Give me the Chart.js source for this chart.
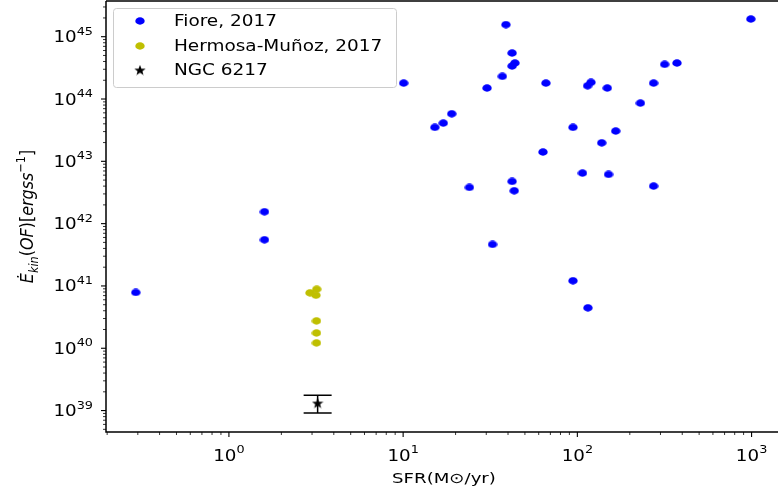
<!DOCTYPE html>
<html><head><meta charset="utf-8">
<script src="https://cdn.jsdelivr.net/npm/chart.js@4.4.1/dist/chart.umd.min.js"></script>
<style>html,body{margin:0;padding:0;background:#fff;overflow:hidden}#wrap{width:778px;height:495px;position:relative}</style>
</head><body><div id="wrap"><canvas id="c" width="778" height="495"></canvas></div>
<script>
// ---- data ----
const fioreSFR  = [990, 38.9, 42.2, 43.8, 42.2, 37.1, 10.07, 30.3, 66, 114.5, 119.7, 148.5, 274, 317, 373, 230, 19.0, 17.0, 15.2, 94.4, 166, 138, 63.5, 107, 151, 24.0, 42.2, 43.4, 274, 32.6, 94.4, 115, 1.60, 1.60, 0.292];
const fioreEkin = [1.92e45, 1.56e45, 5.47e44, 3.78e44, 3.38e44, 2.31e44, 1.80e44, 1.50e44, 1.80e44, 1.63e44, 1.85e44, 1.50e44, 1.80e44, 3.6e44, 3.78e44, 8.6e43, 5.8e43, 4.11e43, 3.51e43, 3.51e43, 3.06e43, 1.98e43, 1.41e43, 6.47e42, 6.17e42, 3.81e42, 4.76e42, 3.37e42, 4.0e42, 4.64e41, 1.21e41, 4.45e40, 1.55e42, 5.5e41, 7.85e40];
const hermosaSFR  = [2.92, 3.19, 3.16, 3.18, 3.18, 3.18];
const hermosaEkin = [7.75e40, 8.87e40, 7.1e40, 2.75e40, 1.76e40, 1.22e40];
const ngcSFR     = [3.23];
const ngcEkin    = [1.32e39];
const ngcEkinLow = [9.15e38];
const ngcEkinHigh= [1.76e39];
const seriesNames = ['Fiore, 2017', 'Hermosa-Muñoz, 2017', 'NGC 6217'];
const xTickPowers = [0, 1, 2, 3];
const yTickPowers = [39, 40, 41, 42, 43, 44, 45];
const xTitle = 'SFR(M\u2299/yr)';

// ---- styles ----
const BLUE = '#0000ff', YEL = '#bfbf00';
const FONT = '"DejaVu Sans", sans-serif';
const SX = 1.22; // horizontal text stretch seen in the reference
function ellipse(color, w, h) {
  const c = document.createElement('canvas'); c.width = w; c.height = h;
  const g = c.getContext('2d'); g.fillStyle = color;
  g.beginPath(); g.ellipse(w/2, h/2, w/2 - 0.3, h/2 - 0.3, 0, 0, Math.PI*2); g.fill();
  return c;
}
function star(color, w, h) {
  const c = document.createElement('canvas'); c.width = w; c.height = h;
  const g = c.getContext('2d'); g.fillStyle = color; g.beginPath();
  for (let i = 0; i < 10; i++) {
    const r = i % 2 ? 0.42 : 1; const a = -Math.PI/2 + i*Math.PI/5;
    const px = w/2 + Math.cos(a)*r*w/2, py = h/2 + 0.5 + Math.sin(a)*r*h/2;
    i ? g.lineTo(px, py) : g.moveTo(px, py);
  }
  g.closePath(); g.fill(); return c;
}
const blueDot = ellipse(BLUE, 10, 8), yelDot = ellipse(YEL, 10, 8), blackStar = star('#000', 12, 11);
const toPts = (xs, ys) => xs.map((x, i) => ({x, y: ys[i]}));
const noPad = s => { s.paddingTop = 0; s.paddingBottom = 0; s.paddingLeft = 0; s.paddingRight = 0; };

// draws "10^p" mathtext-like; anchor: 'right' (y axis) or 'center' (x axis); y = baseline of "10"
function powText(ctx, p, x, y, anchor) {
  const big = '15px ' + FONT, small = '10.5px ' + FONT;
  ctx.font = big; const w1 = ctx.measureText('10').width * SX;
  ctx.font = small; const w2 = ctx.measureText(String(p)).width * SX;
  const tot = w1 + w2; const x0 = anchor === 'right' ? x - tot : x - tot/2;
  ctx.save(); ctx.translate(x0, y); ctx.scale(SX, 1); ctx.textAlign = 'left'; ctx.textBaseline = 'alphabetic';
  ctx.font = big; ctx.fillText('10', 0, 0);
  ctx.font = small; ctx.fillText(String(p), w1 / SX, -7.5);
  ctx.restore();
}

const framePlugin = {
  id: 'frame',
  beforeDatasetsDraw(chart) {
    const ctx = chart.ctx, xs = chart.scales.x, ys = chart.scales.y;
    ctx.save(); ctx.strokeStyle = '#000'; ctx.lineWidth = 1.5;
    ngcSFR.forEach((v, i) => {
      const px = xs.getPixelForValue(v), y1 = ys.getPixelForValue(ngcEkinHigh[i]), y2 = ys.getPixelForValue(ngcEkinLow[i]);
      ctx.beginPath(); ctx.moveTo(px, y1); ctx.lineTo(px, y2);
      ctx.moveTo(px - 14, y1); ctx.lineTo(px + 14, y1);
      ctx.moveTo(px - 14, y2); ctx.lineTo(px + 14, y2); ctx.stroke();
    });
    ctx.restore();
  },
  afterDraw(chart) {
    const ctx = chart.ctx, a = chart.chartArea, xs = chart.scales.x, ys = chart.scales.y;
    ctx.save();
    // ticks
    ctx.strokeStyle = '#000';
    const drawTicks = (sc, horiz) => {
      const e0 = Math.floor(Math.log10(sc.min)), e1 = Math.ceil(Math.log10(sc.max));
      for (let e = e0; e <= e1; e++) for (let k = 1; k <= 9; k++) {
        const v = k * Math.pow(10, e); if (v < sc.min || v > sc.max) continue;
        const p = sc.getPixelForValue(v), len = k === 1 ? 5 : 3;
        ctx.lineWidth = k === 1 ? 1.1 : 0.8; ctx.beginPath();
        if (horiz) { ctx.moveTo(p, a.bottom); ctx.lineTo(p, a.bottom + len); }
        else { ctx.moveTo(a.left, p); ctx.lineTo(a.left - len, p); }
        ctx.stroke();
      }
    };
    drawTicks(xs, true); drawTicks(ys, false);
    // spines
    ctx.lineWidth = 1.5; ctx.beginPath();
    ctx.moveTo(a.left, a.top); ctx.lineTo(a.left, a.bottom); ctx.lineTo(a.right, a.bottom);
    ctx.moveTo(a.left, a.top); ctx.lineTo(a.right, a.top); ctx.stroke();
    // tick labels
    ctx.fillStyle = '#000';
    xTickPowers.forEach(p => powText(ctx, p, xs.getPixelForValue(Math.pow(10, p)), 460.5, 'center'));
    yTickPowers.forEach(p => powText(ctx, p, 93, ys.getPixelForValue(Math.pow(10, p)) + 5.5, 'right'));
    // x title
    ctx.font = '14.5px ' + FONT; ctx.textAlign = 'center'; ctx.textBaseline = 'alphabetic';
    ctx.save(); ctx.translate(444, 483); ctx.scale(1.25, 1); ctx.fillText(xTitle, 0, 0); ctx.restore();
    // y title (mathtext-like)
    const segs = [
      {t:'Ė', s:1, it:true, dy:0}, {t:'kin', s:0.7, it:true, dy:4}, {t:'(', s:1, it:false, dy:0},
      {t:'OF', s:1, it:true, dy:0}, {t:')[', s:1, it:false, dy:0}, {t:'ergss', s:1, it:true, dy:0},
      {t:'−1', s:0.7, it:false, dy:-7}, {t:']', s:1, it:false, dy:0}];
    const fs = 16;
    let total = 0;
    segs.forEach(sg => { ctx.font = (sg.it ? 'italic ' : '') + (fs*sg.s) + 'px ' + FONT; sg.w = ctx.measureText(sg.t).width; total += sg.w; });
    ctx.save(); ctx.translate(33, (a.top + a.bottom)/2); ctx.rotate(-Math.PI/2); ctx.scale(1, 1.15);
    ctx.textAlign = 'left'; let cx = -total/2;
    segs.forEach(sg => { ctx.font = (sg.it ? 'italic ' : '') + (fs*sg.s) + 'px ' + FONT; ctx.fillText(sg.t, cx, sg.dy); cx += sg.w; });
    ctx.restore();
    // legend
    const bx = 113, by = 8, bw = 283, bh = 79;
    ctx.fillStyle = 'rgba(255,255,255,0.8)'; ctx.strokeStyle = '#cccccc'; ctx.lineWidth = 1;
    ctx.beginPath(); ctx.roundRect(bx + 0.5, by + 0.5, bw, bh, 3); ctx.fill(); ctx.stroke();
    const marks = [blueDot, yelDot, blackStar], rows = [21, 46, 70];
    ctx.font = '15px ' + FONT; ctx.fillStyle = '#000'; ctx.textBaseline = 'middle'; ctx.textAlign = 'left';
    seriesNames.forEach((n, i) => {
      const m = marks[i]; ctx.drawImage(m, 140 - m.width/2, rows[i] - m.height/2);
      ctx.save(); ctx.translate(174, rows[i] + 1); ctx.scale(1.23, 1); ctx.fillText(n, 0, 0); ctx.restore();
    });
    ctx.restore();
  }
};

new Chart(document.getElementById('c'), {
  type: 'scatter',
  data: { datasets: [
    { label: seriesNames[0], data: toPts(fioreSFR, fioreEkin), pointStyle: blueDot, backgroundColor: BLUE, borderColor: BLUE, pointRadius: 5 },
    { label: seriesNames[1], data: toPts(hermosaSFR, hermosaEkin), pointStyle: yelDot, backgroundColor: YEL, borderColor: YEL, pointRadius: 5 },
    { label: seriesNames[2], data: toPts(ngcSFR, ngcEkin), pointStyle: blackStar, backgroundColor: '#000', borderColor: '#000', pointRadius: 6 }
  ]},
  options: {
    responsive: false, animation: false, events: [],
    layout: { padding: { top: 1, left: 0, right: 0, bottom: 0 }, autoPadding: false },
    plugins: { legend: { display: false }, tooltip: { enabled: false } },
    scales: {
      x: { type: 'logarithmic', position: 'bottom', min: 0.197, max: 1418,
        grid: { display: false, drawTicks: false }, border: { display: false },
        ticks: { display: false },
        afterFit: s => { s.height = 63; noPad(s); } },
      y: { type: 'logarithmic', min: 4.53e38, max: 3.74e45,
        grid: { display: false, drawTicks: false }, border: { display: false },
        ticks: { display: false },
        afterFit: s => { s.width = 106; noPad(s); } }
    }
  },
  plugins: [framePlugin]
});
</script></body></html>
